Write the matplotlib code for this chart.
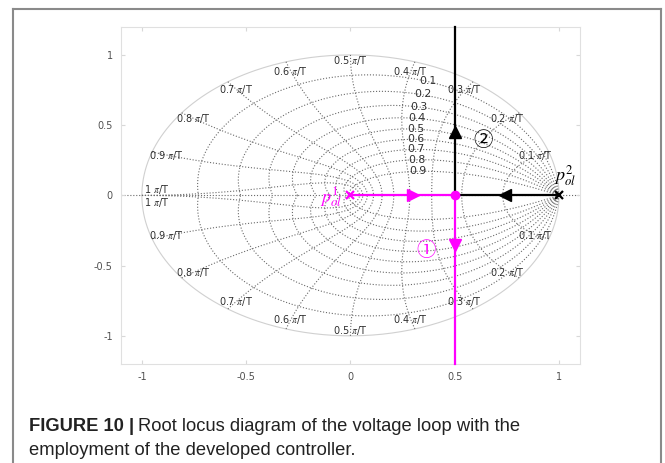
import numpy as np
import matplotlib.pyplot as plt
from matplotlib.lines import Line2D

plt.rcParams['axes.unicode_minus'] = False
plt.rcParams['mathtext.fontset'] = 'stix'

# zgrid values
zeta_vals = [0.1, 0.2, 0.3, 0.4, 0.5, 0.6, 0.7, 0.8, 0.9]
zeta_labels = ['0.1', '0.2', '0.3', '0.4', '0.5', '0.6', '0.7', '0.8', '0.9']
wn_vals = [0.1, 0.2, 0.3, 0.4, 0.5, 0.6, 0.7, 0.8, 0.9, 1.0]   # x pi/T
wn_labels = ['0.1', '0.2', '0.3', '0.4', '0.5', '0.6', '0.7', '0.8', '0.9', '1']

# root locus branches
branch1_x = [0.0, 0.5, 0.5]
branch1_y = [0.0, 0.0, -1.2]
branch2_x = [1.0, 0.5, 0.5]
branch2_y = [0.0, 0.0, 1.2]
poles_x = [0.0, 1.0]
poles_y = [0.0, 0.0]
breakaway = (0.5, 0.0)

grid_col = '#6a6a6a'
fig = plt.figure(figsize=(6.65, 4.63), dpi=100)
ax = fig.add_axes([0.182, 0.214, 0.690, 0.728])

# unit circle
t = np.linspace(0, 2 * np.pi, 400)
ax.plot(np.cos(t), np.sin(t), color='#d0d0d0', lw=0.8, zorder=1)
# real axis
ax.plot([-1.1, 1.1], [0, 0], ls=':', color=grid_col, lw=0.8, zorder=1)

# constant damping curves
th = np.linspace(0, np.pi, 300)
for z in zeta_vals:
    r = np.exp(-z * th / np.sqrt(1 - z ** 2))
    ax.plot(r * np.cos(th), r * np.sin(th), ls=':', color=grid_col, lw=0.8, zorder=1)
    ax.plot(r * np.cos(th), -r * np.sin(th), ls=':', color=grid_col, lw=0.8, zorder=1)

# constant natural frequency curves
zz = np.linspace(0, 1, 200)
for w in wn_vals:
    wn = w * np.pi
    r = np.exp(-wn * zz)
    a = wn * np.sqrt(1 - zz ** 2)
    ax.plot(r * np.cos(a), r * np.sin(a), ls=':', color=grid_col, lw=0.8, zorder=1)
    ax.plot(r * np.cos(a), -r * np.sin(a), ls=':', color=grid_col, lw=0.8, zorder=1)

# damping labels
wl = 0.37 * np.pi
for z, lab in zip(zeta_vals, zeta_labels):
    r = np.exp(-z * wl)
    a = wl * np.sqrt(1 - z ** 2)
    ax.text(r * np.cos(a) + 0.015, r * np.sin(a), lab, fontsize=7.8, ha='center',
            va='center', color='#303030', zorder=2)

# frequency labels
for w, lab in zip(wn_vals, wn_labels):
    a = w * np.pi
    rad = 0.96 if w == 0.5 else 0.93
    x = rad * np.cos(a)
    y = rad * np.sin(a)
    if w == 1.0:
        x, ya, yb = -0.93, 0.045, -0.05
    else:
        ya, yb = y, -y
    ax.text(x, ya, lab + r' $\pi$/T', fontsize=7, ha='center', va='center',
            color='#303030', zorder=2)
    ax.text(x, yb, lab + r' $\pi$/T', fontsize=7, ha='center', va='center',
            color='#303030', zorder=2)

# root locus
ax.plot(branch2_x, branch2_y, color='black', lw=1.6, zorder=3, clip_on=False)
ax.plot(branch1_x, branch1_y, color='#ff00ff', lw=1.6, zorder=4, clip_on=False)
ax.plot([0.30], [0.0], marker='>', color='#ff00ff', ms=8, zorder=5)
ax.plot([0.5], [-0.35], marker='v', color='#ff00ff', ms=8, zorder=5)
ax.plot([0.74], [0.0], marker='<', color='black', ms=8, zorder=5)
ax.plot([0.5], [0.45], marker='^', color='black', ms=8, zorder=5)
ax.plot([breakaway[0]], [breakaway[1]], marker='o', color='#ff00ff', ms=6, zorder=6)
ax.plot(poles_x[:1], poles_y[:1], marker='x', color='#ff00ff', ms=6, mew=1.6, zorder=6)
ax.plot(poles_x[1:], poles_y[1:], marker='x', color='black', ms=6, mew=1.6, zorder=6)

ax.text(-0.095, -0.02, r'$p_{ol}^{1}$', fontsize=13, color='#ff00ff', ha='center', va='center')
ax.text(1.03, 0.14, r'$p_{ol}^{2}$', fontsize=13, color='black', ha='center', va='center')
ax.text(0.365, -0.39, '①', fontsize=14, color='#ff00ff', ha='center', va='center',
        family=['Noto Sans CJK JP', 'DejaVu Sans'])
ax.text(0.635, 0.39, '②', fontsize=14, color='black', ha='center', va='center',
        family=['Noto Sans CJK JP', 'DejaVu Sans'])

ax.set_xlim(-1.1, 1.1)
ax.set_ylim(-1.2, 1.2)
ax.set_xticks([-1, -0.5, 0, 0.5, 1])
ax.set_xticklabels(['-1', '-0.5', '0', '0.5', '1'])
ax.set_yticks([-1, -0.5, 0, 0.5, 1])
ax.set_yticklabels(['-1', '-0.5', '0', '0.5', '1'])
ax.tick_params(direction='in', length=3, color='#d8d8d8', labelcolor='#505050',
               labelsize=7, pad=6, top=True, right=True)
for s in ax.spines.values():
    s.set_color('#e0e0e0')
    s.set_linewidth(0.8)

# outer frame
fl = dict(color='#8a8a8a', lw=1.5, transform=fig.transFigure)
fig.add_artist(Line2D([0.0195, 0.994], [0.980, 0.980], **fl))
fig.add_artist(Line2D([0.0195, 0.0195], [0.0, 0.980], **fl))
fig.add_artist(Line2D([0.994, 0.994], [0.0, 0.980], **fl))

# caption
cap_font = ['Liberation Sans']
t1 = fig.text(0.043, 0.069, 'FIGURE 10 |', fontsize=13.2, fontweight='bold',
              family=cap_font, va='baseline', color='#222222')
fig.canvas.draw()
bb = t1.get_window_extent().transformed(fig.transFigure.inverted())
fig.text(bb.x1 + 0.006, 0.069, 'Root locus diagram of the voltage loop with the',
         fontsize=13.2, family=cap_font, va='baseline', color='#222222')
fig.text(0.043, 0.017, 'employment of the developed controller.', fontsize=13.2,
         family=cap_font, va='baseline', color='#222222')

fig.savefig('out.png', dpi=100)
